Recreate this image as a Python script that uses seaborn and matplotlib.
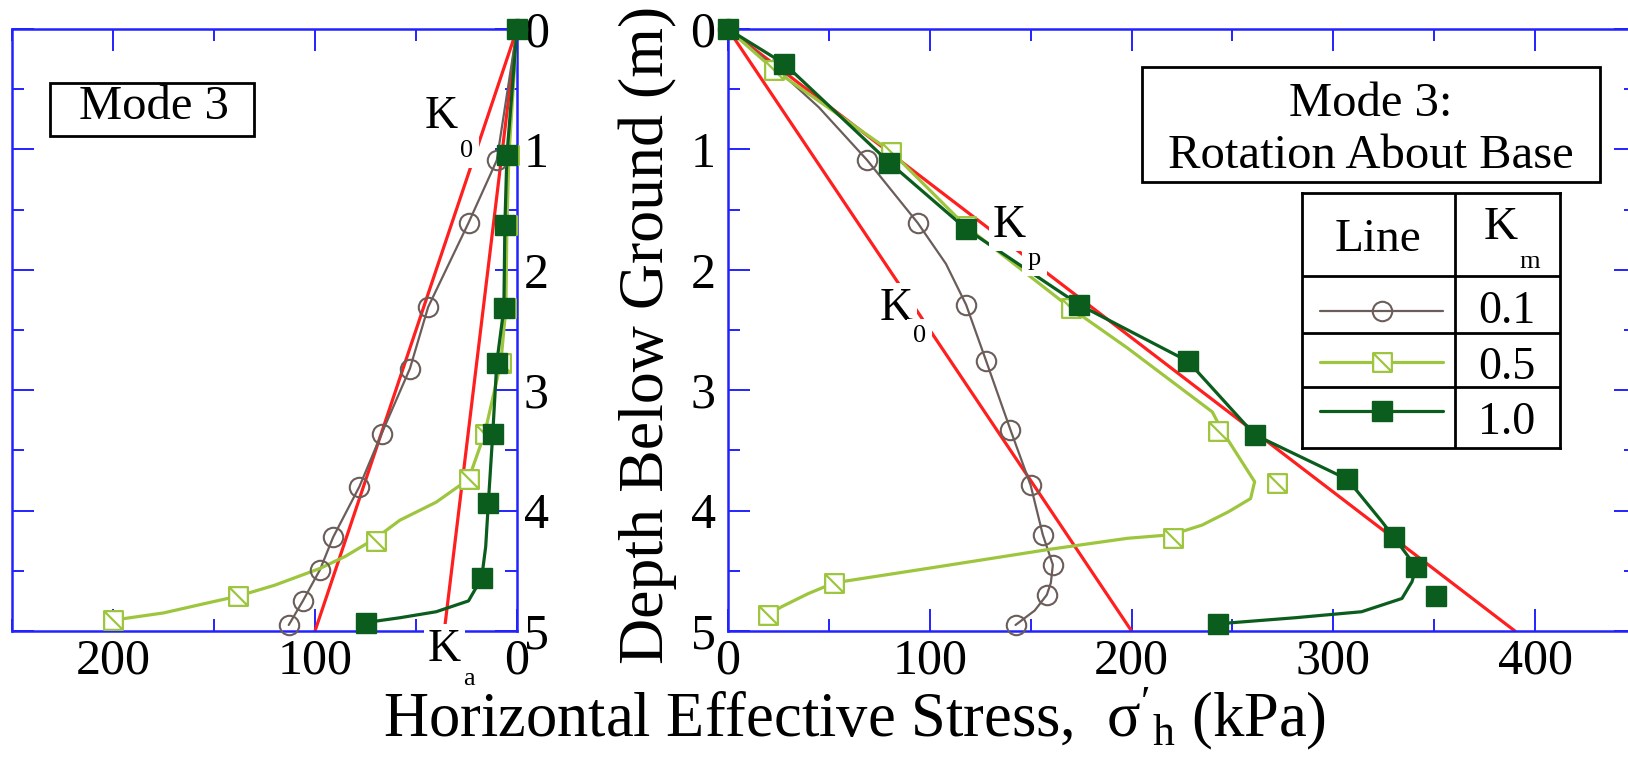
import matplotlib
matplotlib.use("Agg")
import matplotlib.pyplot as plt
from matplotlib.path import Path
from matplotlib.patches import Rectangle
from matplotlib.ticker import MultipleLocator
import seaborn as sns

# ---- values: stress (kPa) vs depth (m) ----
# left panel
left_gray_z = [0, 1.09, 1.61, 2.31, 2.82, 3.36, 3.80, 4.22, 4.49, 4.75, 4.95]
left_gray_s = [0, 10, 24, 44, 53, 67, 78, 91, 97.5, 106, 113]

left_light_mz = [0, 1.05, 1.63, 2.32, 2.77, 3.36, 3.74, 4.25, 4.71, 4.91]
left_light_ms = [0, 4, 5, 5.5, 8, 16, 24, 70, 138, 200]
left_light_z = [0, 1.05, 1.63, 2.32, 2.77, 3.36, 3.74, 3.93, 4.08, 4.23, 4.38, 4.48, 4.62, 4.71, 4.77, 4.85, 4.91]
left_light_s = [0, 4, 5, 5.5, 8, 16, 24, 40, 58, 70, 85, 97.5, 120, 138, 154, 175, 200]

left_dark_mz = [0, 1.05, 1.63, 2.32, 2.77, 3.36, 3.94, 4.56, 4.93]
left_dark_ms = [0, 5, 6, 6.5, 10, 12, 14.2, 17.5, 75]
left_dark_z = [0, 1.05, 1.63, 2.32, 2.77, 3.36, 3.94, 4.30, 4.56, 4.75, 4.84, 4.89, 4.93]
left_dark_s = [0, 5, 6, 6.5, 10, 12, 14.2, 15.5, 17.5, 24, 40, 58, 75]

left_k0_z, left_k0_s = [0, 5], [0, 100]
left_ka_z, left_ka_s = [0, 5], [0, 36]

# right panel
right_gray_mz = [0, 0.33, 1.09, 1.61, 2.29, 2.76, 3.33, 3.79, 4.20, 4.45, 4.70, 4.95]
right_gray_ms = [0, 24, 69, 94, 118, 128, 140, 150, 156, 161, 158, 142.5]
right_gray_z = [0, 0.33, 0.65, 1.09, 1.61, 1.95, 2.29, 2.76, 3.33, 3.79, 4.20, 4.45, 4.60, 4.70, 4.83, 4.95]
right_gray_s = [0, 24, 45, 69, 94, 108, 118, 128, 140, 150, 156, 161, 160, 158, 152, 142.5]

right_light_mz = [0, 0.34, 1.02, 1.64, 2.32, 3.34, 3.77, 4.23, 4.60, 4.87]
right_light_ms = [0, 23, 81, 118, 170, 243, 272, 220.6, 52.6, 19.8]
right_light_z = [0, 0.34, 1.02, 1.64, 2.32, 2.65, 3.18, 3.34, 3.59, 3.76, 3.90, 4.01, 4.12, 4.20, 4.23,
                 4.32, 4.48, 4.60, 4.69, 4.80, 4.87]
right_light_s = [0, 23, 81, 118, 170, 198, 240, 245, 254.5, 261, 259, 248, 235, 220, 198,
                 160, 99, 52.6, 39.7, 26.4, 19.8]

right_dark_mz = [0, 0.29, 1.11, 1.66, 2.29, 2.76, 3.37, 3.74, 4.22, 4.47, 4.71, 4.94]
right_dark_ms = [0, 28, 80, 118, 174, 228, 261, 307, 330, 341, 351, 243]
right_dark_z = [0, 0.29, 1.11, 1.66, 2.29, 2.76, 3.37, 3.74, 4.09, 4.22, 4.47, 4.59, 4.73, 4.84, 4.89, 4.94]
right_dark_s = [0, 28, 80, 118, 174, 228, 261, 307, 324, 330, 341, 339, 334, 314, 281, 243]

right_k0_z, right_k0_s = [0, 5], [0, 200]
right_kp_z, right_kp_s = [0, 5], [0, 390]

km_values = ["0.1", "0.5", "1.0"]

# ---- style ----
sns.set_theme(style="white")
plt.rcParams["font.family"] = ["Liberation Serif", "DejaVu Serif"]
plt.rcParams["mathtext.fontset"] = "custom"
plt.rcParams["mathtext.rm"] = "Liberation Serif"
plt.rcParams["mathtext.it"] = "Liberation Serif:italic"
plt.rcParams["text.color"] = "black"

BLUE = "#2222ff"
RED = "#ff1f1f"
GRAY = "#6b5d5a"
LIGHT = "#9dc63e"
DARK = "#0b5d1e"

W, H = 1628, 768

def fx(x):
    return x / W

def fy(y):
    return 1 - y / H

hatched_sq = Path([(-1, -1), (1, -1), (1, 1), (-1, 1), (-1, -1), (-1, 1), (1, -1)],
                  [Path.MOVETO, Path.LINETO, Path.LINETO, Path.LINETO, Path.CLOSEPOLY,
                   Path.MOVETO, Path.LINETO])

gray_mk = dict(marker="o", markersize=14, mfc="none", mec=GRAY, mew=1.5)
light_mk = dict(marker=hatched_sq, markersize=13.5, mfc="white", mec=LIGHT, mew=1.6)
dark_mk = dict(marker="s", markersize=14.5, mfc=DARK, mec=DARK, mew=1)


def profile(ax, s_line, z_line, s_mark, z_mark, color, lw, mk):
    sns.lineplot(x=s_line, y=z_line, sort=False, estimator=None, color=color, lw=lw, ax=ax, zorder=3)
    ax.plot(s_mark, z_mark, ls="none", clip_on=False, zorder=4, **mk)


def style_axes(ax):
    for sp in ax.spines.values():
        sp.set_visible(True)
        sp.set_color(BLUE)
        sp.set_linewidth(1.8)
    ax.set_ylim(5, 0)
    ax.yaxis.set_major_locator(MultipleLocator(1))
    ax.yaxis.set_minor_locator(MultipleLocator(0.5))
    ax.xaxis.set_major_locator(MultipleLocator(100))
    ax.xaxis.set_minor_locator(MultipleLocator(50))
    ax.tick_params(which="both", direction="in", color=BLUE, width=1.4,
                   top=True, bottom=True, left=True, right=True,
                   labelsize=36, labelcolor="black")
    ax.tick_params(which="major", length=15.5)
    ax.tick_params(which="minor", length=8.5)
    ax.tick_params(axis="x", pad=5)
    ax.set_xlabel("")
    ax.set_ylabel("")


fig = plt.figure(figsize=(W / 100, H / 100), dpi=100)
ax_l = fig.add_axes([fx(12), fy(631), fx(505), 602 / H])
ax_r = fig.add_axes([fx(728), fy(631), fx(908), 602 / H])

# left panel
sns.lineplot(x=left_k0_s, y=left_k0_z, color=RED, lw=2.3, ax=ax_l, zorder=2)
sns.lineplot(x=left_ka_s, y=left_ka_z, color=RED, lw=2.3, ax=ax_l, zorder=2)
profile(ax_l, left_gray_s, left_gray_z, left_gray_s, left_gray_z, GRAY, 1.6, gray_mk)
profile(ax_l, left_light_s, left_light_z, left_light_ms, left_light_mz, LIGHT, 2.3, light_mk)
profile(ax_l, left_dark_s, left_dark_z, left_dark_ms, left_dark_mz, DARK, 2.3, dark_mk)
style_axes(ax_l)
ax_l.set_xlim(250, 0)
ax_l.tick_params(axis="y", labelleft=False, labelright=True, pad=5)

# right panel
sns.lineplot(x=right_k0_s, y=right_k0_z, color=RED, lw=2.3, ax=ax_r, zorder=2)
sns.lineplot(x=right_kp_s, y=right_kp_z, color=RED, lw=2.3, ax=ax_r, zorder=2)
profile(ax_r, right_gray_s, right_gray_z, right_gray_ms, right_gray_mz, GRAY, 1.6, gray_mk)
profile(ax_r, right_light_s, right_light_z, right_light_ms, right_light_mz, LIGHT, 2.3, light_mk)
profile(ax_r, right_dark_s, right_dark_z, right_dark_ms, right_dark_mz, DARK, 2.3, dark_mk)
style_axes(ax_r)
ax_r.set_xlim(0, 450)
ax_r.tick_params(axis="y", labelleft=True, labelright=False, pad=9)

# K labels with white background (they cut the lines underneath)
wb = dict(fc="white", ec="none", pad=3)
wb_sub = dict(fc="white", ec="none", pad=4)
for kx, ky, sub, sx, sy in [(425, 128, "0", 460, 157),
                            (880, 320, "0", 913, 342),
                            (993, 237, "p", 1028, 265),
                            (428, 661, "a", 463, 685)]:
    fig.text(fx(kx), fy(ky), "K", fontsize=33, ha="left", va="baseline", bbox=wb, zorder=5)
    fig.text(fx(sx), fy(sy), sub, fontsize=19, ha="left", va="baseline", bbox=wb_sub, zorder=6)

# boxed titles
fig.add_artist(Rectangle((fx(50), fy(136)), fx(204), 53 / H, transform=fig.transFigure,
                         fill=False, ec="black", lw=2))
fig.text(fx(154), fy(119), "Mode 3", fontsize=35, ha="center", va="baseline")

fig.add_artist(Rectangle((fx(1142), fy(182)), fx(458), 115 / H, transform=fig.transFigure,
                         fc="white", ec="black", lw=2, zorder=5))
fig.text(fx(1371), fy(116), "Mode 3:", fontsize=35, ha="center", va="baseline", zorder=6)
fig.text(fx(1371), fy(168), "Rotation About Base", fontsize=35, ha="center", va="baseline", zorder=6)

# legend table
ax_t = fig.add_axes([fx(1302), fy(448), fx(258), 255 / H])
ax_t.set_xlim(0, 258)
ax_t.set_ylim(255, 0)
ax_t.set_xticks([])
ax_t.set_yticks([])
for sp in ax_t.spines.values():
    sp.set_color("black")
    sp.set_linewidth(2)
ax_t.axvline(153, color="black", lw=2)
for yy in [83, 140, 194]:
    ax_t.axhline(yy, color="black", lw=2)
ax_t.text(76.5, 58, "Line", fontsize=34, ha="center", va="baseline")
ax_t.text(182, 46, "K", fontsize=34, ha="left", va="baseline")
ax_t.text(217, 75, "m", fontsize=19, ha="left", va="baseline")
rows = [(118, GRAY, 1.6, gray_mk), (169, LIGHT, 2.3, light_mk), (218, DARK, 2.3, dark_mk)]
for (ry, col, lw, mk), val, vb in zip(rows, km_values, [130, 186, 241]):
    ax_t.plot([18, 141], [ry, ry], color=col, lw=lw)
    ax_t.plot([79.5], [ry], ls="none", **mk)
    ax_t.text(205, vb, val, fontsize=33, ha="center", va="baseline")

# axis titles
fig.text(fx(855), fy(736), r"Horizontal Effective Stress,  $\mathrm{\sigma}'_\mathrm{h}$ (kPa)",
         fontsize=45, ha="center", va="baseline")
fig.text(fx(648), fy(335), "Depth Below Ground (m)", fontsize=46, rotation=90,
         ha="center", va="center")

fig.savefig("out.png", dpi=100)
